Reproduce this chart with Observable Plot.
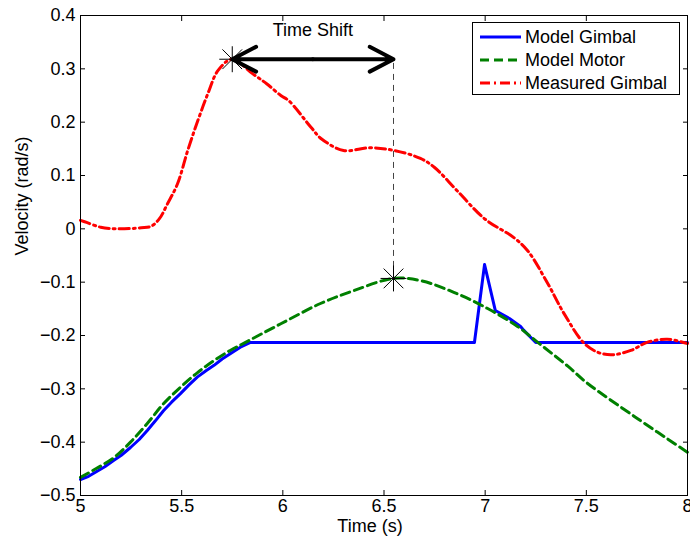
<!DOCTYPE html>
<html><head><meta charset="utf-8">
<script src="https://cdn.jsdelivr.net/npm/d3@7"></script>
<script src="https://cdn.jsdelivr.net/npm/@observablehq/plot@0.6"></script>
<style>
body{margin:0;background:#fff;}
#wrap{position:relative;width:690px;height:540px;font-family:"Liberation Sans",Arial,Helvetica,sans-serif;}
#legend{position:absolute;left:472px;top:22px;width:206px;height:71px;border:1px solid #000;background:#fff;font-size:18px;color:#000;}
#legend .row{position:absolute;left:0;height:22px;display:flex;align-items:center;white-space:nowrap;}
#legend svg{margin-left:7px;margin-right:4px;}
</style></head><body><div id="wrap"></div>
<script>
// ---- data ----
const seriesNames = ["Model Gimbal", "Model Motor", "Measured Gimbal"];
const seriesColors = ["#0000ff", "#008000", "#ff0000"];

const gimbalT = [5.00, 5.04, 5.08, 5.12, 5.165, 5.20, 5.247, 5.29, 5.33, 5.37, 5.41, 5.45, 5.494, 5.535, 5.577, 5.62, 5.66, 5.70, 5.74, 5.79, 5.84, 6.947, 6.997, 7.05, 7.12, 7.175, 7.19, 7.25, 8.00];
const gimbalV = [-0.470, -0.464, -0.455, -0.446, -0.434, -0.425, -0.410, -0.395, -0.378, -0.360, -0.341, -0.325, -0.309, -0.293, -0.278, -0.266, -0.256, -0.244, -0.234, -0.222, -0.213, -0.213, -0.067, -0.153, -0.168, -0.183, -0.190, -0.213, -0.213];

const motorT = [5.00, 5.08, 5.165, 5.247, 5.33, 5.41, 5.494, 5.577, 5.66, 5.74, 5.825, 5.99, 6.186, 6.35, 6.547, 6.68, 6.845, 7.01, 7.16, 7.26, 7.41, 7.50, 7.75, 8.00];
const motorV = [-0.466, -0.449, -0.429, -0.400, -0.365, -0.328, -0.297, -0.270, -0.247, -0.228, -0.211, -0.178, -0.140, -0.116, -0.093, -0.097, -0.119, -0.149, -0.183, -0.213, -0.258, -0.288, -0.355, -0.419];

const measuredT = [5.00, 5.03, 5.10, 5.18, 5.30, 5.35, 5.39, 5.43, 5.48, 5.53, 5.58, 5.63, 5.68, 5.75, 5.85, 5.92, 5.99, 6.03, 6.14, 6.19, 6.30, 6.43, 6.55, 6.68, 6.75, 6.86, 7.00, 7.14, 7.21, 7.31, 7.39, 7.49, 7.56, 7.63, 7.72, 7.80, 7.90, 8.00];
const measuredV = [0.016, 0.012, 0.003, 0.000, 0.002, 0.005, 0.019, 0.047, 0.085, 0.147, 0.203, 0.254, 0.297, 0.318, 0.291, 0.272, 0.250, 0.240, 0.190, 0.169, 0.147, 0.152, 0.147, 0.132, 0.115, 0.072, 0.018, -0.016, -0.041, -0.103, -0.159, -0.215, -0.232, -0.236, -0.228, -0.213, -0.207, -0.215];

const xTicks = [5, 5.5, 6, 6.5, 7, 7.5, 8];
const yTicks = [-0.5, -0.4, -0.3, -0.2, -0.1, 0, 0.1, 0.2, 0.3, 0.4];

// annotation: time shift between measured peak and motor peak
const shiftT = [5.75, 6.547];
const shiftV = [0.318, -0.093];
const shiftLabel = "Time Shift";
const shiftLabelV = 0.372;
const xLabel = "Time (s)";
const yLabel = "Velocity (rad/s)";

// ---- build ----
const toRows = (t, v) => t.map((d, i) => ({t: d, v: v[i]}));
const gimbal = toRows(gimbalT, gimbalV);
const motor = toRows(motorT, motorV);
const measured = toRows(measuredT, measuredV);
const fmt = d => { const s = String(+d.toFixed(1)); return d < 0 ? "\u2212" + s.slice(1) : s; };
const midT = (shiftT[0] + shiftT[1]) / 2;
const font = '"Liberation Sans", Arial, Helvetica, sans-serif';

const chart = Plot.plot({
  width: 690, height: 540,
  marginLeft: 80, marginRight: 3, marginTop: 15, marginBottom: 45,
  x: {domain: [5, 8]},
  y: {domain: [-0.5, 0.4]},
  style: {fontFamily: font, fontSize: "18px", color: "#000", background: "#fff"},
  marks: [
    Plot.axisX(xTicks, {anchor: "bottom", tickSize: -5, tickPadding: 9, tickFormat: fmt, label: null, fontSize: 18}),
    Plot.axisX(xTicks, {anchor: "top", tickSize: -5, tickFormat: () => "", label: null}),
    Plot.axisY(yTicks, {anchor: "left", tickSize: -5, tickPadding: 10, tickFormat: fmt, label: null, fontSize: 18}),
    Plot.axisY(yTicks, {anchor: "right", tickSize: -5, tickFormat: () => "", label: null}),
    Plot.line(gimbal, {x: "t", y: "v", stroke: seriesColors[0], strokeWidth: 3}),
    Plot.line(motor, {x: "t", y: "v", stroke: seriesColors[1], strokeWidth: 3, strokeDasharray: "9,5", curve: "catmull-rom"}),
    Plot.line(measured, {x: "t", y: "v", stroke: seriesColors[2], strokeWidth: 3, strokeDasharray: "10,4,2,4", curve: "catmull-rom"}),
    Plot.ruleX([shiftT[1]], {y1: shiftV[1], y2: shiftV[0], stroke: "#444", strokeWidth: 1, strokeDasharray: "6,5"}),
    Plot.arrow([{x1: midT, x2: shiftT[0]}, {x1: midT, x2: shiftT[1]}], {x1: "x1", x2: "x2", y1: shiftV[0], y2: shiftV[0], stroke: "#000", strokeWidth: 4, headLength: 14, headAngle: 55}),
    Plot.dot(shiftT, {x: d => d, y: (d, i) => shiftV[i], symbol: "plus", r: 8.4, stroke: "#000", strokeWidth: 1}),
    Plot.dot(shiftT, {x: d => d, y: (d, i) => shiftV[i], symbol: "times", r: 9, stroke: "#000", strokeWidth: 1}),
    Plot.text([shiftLabel], {x: midT, y: shiftLabelV, text: d => d, fontSize: 18}),
    Plot.text([xLabel], {frameAnchor: "bottom", text: d => d, dx: -14, dy: 36, fontSize: 18}),
    Plot.text([yLabel], {frameAnchor: "left", text: d => d, dx: -58, rotate: -90, fontSize: 18}),
    Plot.frame({stroke: "#000", strokeWidth: 1})
  ]
});
const wrap = document.getElementById("wrap");
wrap.appendChild(chart);

// legend
const legend = document.createElement("div");
legend.id = "legend";
const dashes = [null, "9,5", "10,4,2,4"];
const rowTops = [3, 26, 49];
seriesNames.forEach((name, i) => {
  const row = document.createElement("div");
  row.className = "row";
  row.style.top = rowTops[i] + "px";
  row.innerHTML = `<svg width="41" height="6"><line x1="0" y1="3" x2="41" y2="3" stroke="${seriesColors[i]}" stroke-width="3" ${dashes[i] ? `stroke-dasharray="${dashes[i]}"` : ""}/></svg><span>${name}</span>`;
  legend.appendChild(row);
});
wrap.appendChild(legend);
</script>
</body></html>
